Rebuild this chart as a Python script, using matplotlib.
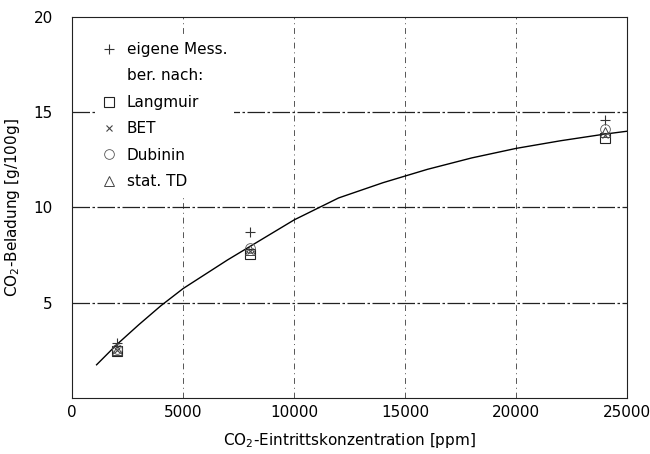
import matplotlib.pyplot as plt
from matplotlib.lines import Line2D

# fitted curve
curve_x = [1100, 2000, 3000, 4000, 5000, 6000, 7000, 8000, 9000, 10000,
           12000, 14000, 16000, 18000, 20000, 22000, 24000, 25000]
curve_y = [1.75, 2.8, 3.85, 4.85, 5.75, 6.5, 7.25, 7.95, 8.65, 9.35,
           10.5, 11.3, 12.0, 12.6, 13.1, 13.5, 13.85, 14.0]

# measured and calculated points
conc = [2000, 8000, 24000]
mess = [2.9, 8.7, 14.6]
langmuir = [2.45, 7.55, 13.65]
bet = [2.5, 7.7, 13.8]
dubinin = [2.6, 7.85, 14.1]
stat_td = [2.55, 7.75, 13.95]

x_ticks = [0, 5000, 10000, 15000, 20000, 25000]
y_ticks = [5, 10, 15, 20]

fig = plt.figure(figsize=(6.5, 4.54), dpi=100)
ax = fig.add_axes([0.111, 0.123, 0.854, 0.840])

for v in [5000, 10000, 15000, 20000]:
    ax.axvline(v, color='#555555', lw=0.7, ls=(0, (6, 4, 1, 4)), zorder=0)
for v in [5, 10, 15]:
    ax.axhline(v, color='#222222', lw=0.9, ls=(0, (14, 2, 2, 2)), zorder=0)

ax.plot(curve_x, curve_y, color='black', lw=1.0)

ms = 7
ax.plot(conc, mess, ls='none', marker='+', color='#333333', ms=ms, mew=0.8)
ax.plot(conc, langmuir, ls='none', marker='s', mfc='none', mec='#222222', ms=ms, mew=0.8)
ax.plot(conc, bet, ls='none', marker='x', color='#444444', ms=ms - 2, mew=0.8)
ax.plot(conc, dubinin, ls='none', marker='o', mfc='none', mec='#555555', ms=ms, mew=0.6)
ax.plot(conc, stat_td, ls='none', marker='^', mfc='none', mec='#444444', ms=ms, mew=0.7)

handles = [
    Line2D([], [], ls='none', marker='+', color='#333333', ms=ms, mew=0.8),
    Line2D([], [], ls='none'),
    Line2D([], [], ls='none', marker='s', mfc='none', mec='#222222', ms=ms, mew=0.8),
    Line2D([], [], ls='none', marker='x', color='#444444', ms=ms - 2, mew=0.8),
    Line2D([], [], ls='none', marker='o', mfc='none', mec='#555555', ms=ms, mew=0.6),
    Line2D([], [], ls='none', marker='^', mfc='none', mec='#444444', ms=ms, mew=0.7),
]
labels = ['eigene Mess.', 'ber. nach:', 'Langmuir', 'BET', 'Dubinin', 'stat. TD']
leg = ax.legend(handles, labels, loc='upper left', bbox_to_anchor=(0.03, 0.97),
                frameon=True, fontsize=11, handlelength=0.8, handletextpad=0.8,
                labelspacing=0.75, borderpad=0.4)
leg.get_frame().set_edgecolor('none')
leg.get_frame().set_facecolor('white')
leg.get_frame().set_alpha(1)

ax.set_xlim(0, 25000)
ax.set_ylim(0, 20)
ax.set_xticks(x_ticks)
ax.set_xticklabels([str(t) for t in x_ticks])
ax.set_yticks(y_ticks)
ax.tick_params(length=0, labelsize=11)
ax.tick_params(axis='x', pad=5)
ax.tick_params(axis='y', pad=14)
for s in ax.spines.values():
    s.set_linewidth(0.8)
    s.set_color('#222222')

ax.set_xlabel('CO$_2$-Eintrittskonzentration [ppm]', fontsize=11, labelpad=8)
ax.set_ylabel('CO$_2$-Beladung [g/100g]', fontsize=11, labelpad=8)

fig.savefig('out.png', dpi=100)
